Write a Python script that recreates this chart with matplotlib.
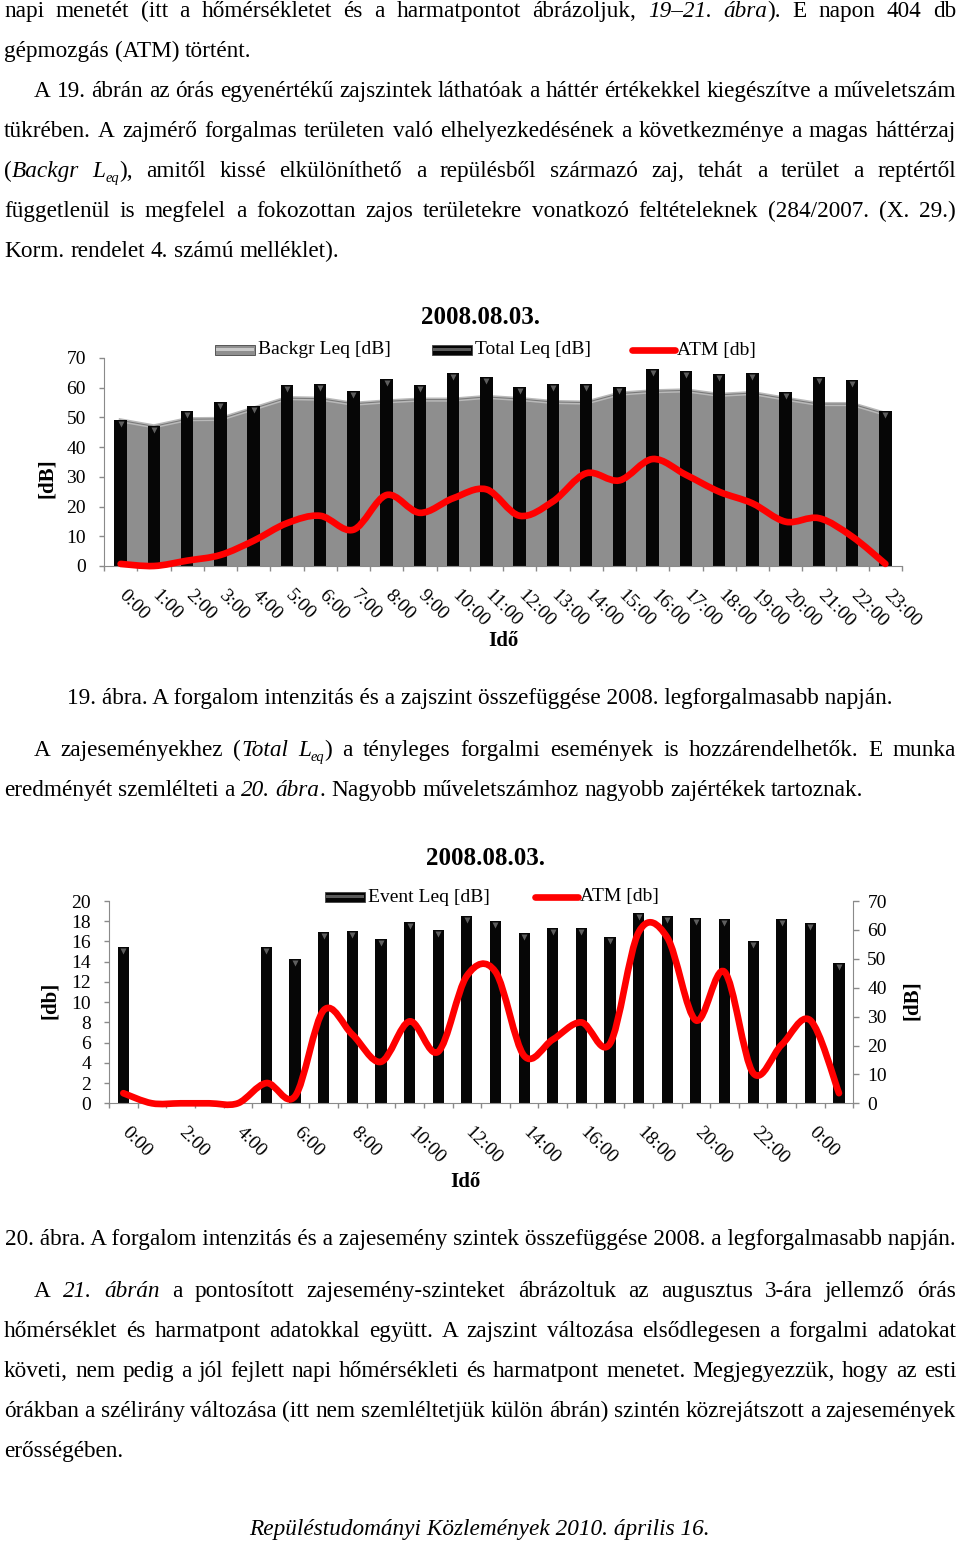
import numpy as np
import matplotlib
matplotlib.use('Agg')
import matplotlib.pyplot as plt
from matplotlib.path import Path
from matplotlib.patches import PathPatch, Rectangle
from matplotlib.lines import Line2D
from matplotlib.font_manager import FontProperties
import matplotlib.transforms as mtrans

plt.rcParams['font.family'] = ['Liberation Serif', 'DejaVu Serif']

# ---------------- data ----------------
hours1 = ["0:00", "1:00", "2:00", "3:00", "4:00", "5:00", "6:00", "7:00", "8:00", "9:00",
          "10:00", "11:00", "12:00", "13:00", "14:00", "15:00", "16:00", "17:00", "18:00",
          "19:00", "20:00", "21:00", "22:00", "23:00"]
backgr = [49.0, 47.0, 49.4, 49.5, 53.0, 56.5, 56.3, 54.6, 55.4, 56.0, 56.0, 56.9,
          56.2, 55.2, 55.0, 58.0, 58.8, 59.1, 57.6, 58.2, 56.3, 54.5, 54.5, 51.2]
total = [49.2, 47.0, 52.0, 55.1, 53.9, 60.8, 61.2, 58.9, 62.9, 60.8, 64.9, 63.6,
         60.2, 61.2, 61.2, 60.4, 66.3, 65.7, 64.6, 64.9, 58.5, 63.6, 62.6, 52.3]
atm1 = [0.7, 0.0, 1.8, 3.7, 8.5, 14.4, 16.9, 12.2, 23.9, 17.9, 22.8, 25.8,
        16.9, 21.7, 31.2, 28.8, 36.0, 30.7, 25.0, 21.1, 14.9, 16.1, 9.9, 0.7]

hours2 = ["0:00", "1:00", "2:00", "3:00", "4:00", "5:00", "6:00", "7:00", "8:00", "9:00",
          "10:00", "11:00", "12:00", "13:00", "14:00", "15:00", "16:00", "17:00", "18:00",
          "19:00", "20:00", "21:00", "22:00", "23:00", "0:00", "1:00"]
event = [54.2, 0, 0, 0, 0, 54.2, 49.8, 59.2, 59.6, 56.7, 62.8, 60.0, 64.8,
         63.1, 58.8, 60.6, 60.6, 57.6, 66.0, 64.8, 64.0, 63.7, 56.2, 63.8, 62.5, 48.7]
atm2 = [1.0, 0.0, 0.0, 0.0, 0.0, 2.0, 0.7, 9.2, 6.8, 4.1, 8.1, 5.1, 12.6,
        13.0, 4.7, 6.3, 8.0, 5.9, 16.9, 16.4, 8.2, 13.0, 3.0, 5.8, 8.2, 1.0]

title_txt = "2008.08.03."

# text of the page: each line is a list of runs (text, style)  n=normal i=italic s=subscript
para1 = [
    ([("napi menetét (itt a hőmérsékletet és a harmatpontot ábrázoljuk, ", "n"), ("19–21. ábra", "i"), ("). E napon 404 db", "n")], 4, True),
    ([("gépmozgás (ATM) történt.", "n")], 4, False),
    ([("A 19. ábrán az órás egyenértékű zajszintek láthatóak a háttér értékekkel kiegészítve a műveletszám", "n")], 34, True),
    ([("tükrében. A zajmérő forgalmas területen való elhelyezkedésének a következménye a magas háttérzaj", "n")], 4, True),
    ([("(", "n"), ("Backgr L", "i"), ("eq", "s"), ("), amitől kissé elkülöníthető a repülésből származó zaj, tehát a terület a reptértől", "n")], 4, True),
    ([("függetlenül is megfelel a fokozottan zajos területekre vonatkozó feltételeknek (284/2007. (X. 29.)", "n")], 4, True),
    ([("Korm. rendelet 4. számú melléklet).", "n")], 4, False),
]
para1_y = [10, 50, 90, 130, 170, 210, 250]
caption1 = "19. ábra. A forgalom intenzitás és a zajszint összefüggése 2008. legforgalmasabb napján."
para2 = [
    ([("A zajeseményekhez (", "n"), ("Total L", "i"), ("eq", "s"), (") a tényleges forgalmi események is hozzárendelhetők. E munka", "n")], 34, True),
    ([("eredményét szemlélteti a ", "n"), ("20. ábra", "i"), (". Nagyobb műveletszámhoz nagyobb zajértékek tartoznak.", "n")], 4, False),
]
para2_y = [749, 789]
caption2 = "20. ábra. A forgalom intenzitás és a zajesemény szintek összefüggése 2008. a legforgalmasabb napján."
para3 = [
    ([("A ", "n"), ("21. ábrán", "i"), (" a pontosított zajesemény-szinteket ábrázoltuk az augusztus 3-ára jellemző órás", "n")], 34, True),
    ([("hőmérséklet és harmatpont adatokkal együtt. A zajszint változása elsődlegesen a forgalmi adatokat", "n")], 4, True),
    ([("követi, nem pedig a jól fejlett napi hőmérsékleti és harmatpont menetet. Megjegyezzük, hogy az esti", "n")], 4, True),
    ([("órákban a szélirány változása (itt nem szemléltetjük külön ábrán) szintén közrejátszott a zajesemények", "n")], 4, True),
    ([("erősségében.", "n")], 4, False),
]
para3_y = [1290, 1330, 1370, 1410, 1450]
footer = "Repüléstudományi Közlemények 2010. április 16."

# ---------------- figure ----------------
W, H = 960, 1541
fig = plt.figure(figsize=(9.6, 15.41), dpi=100)
fig.patch.set_facecolor('white')
renderer = fig.canvas.get_renderer()
SERIF = 'Liberation Serif'


def fx(x):
    return x / W


def fy(y):
    return 1 - y / H


def fprop(style, size):
    if style == 'n':
        return FontProperties(family=SERIF, size=size)
    if style == 'i':
        return FontProperties(family=SERIF, style='italic', size=size)
    return FontProperties(family=SERIF, style='italic', size=size * 0.62)


def text_w(s, style, size):
    w, h, d = renderer.get_text_width_height_descent(s, fprop(style, size), ismath=False)
    return w


def to_words(runs):
    words = [[]]
    for t, st in runs:
        parts = t.split(' ')
        for k, p in enumerate(parts):
            if k > 0:
                words.append([])
            if p:
                words[-1].append((p, st))
    return [w for w in words if w]


BODY = 16.0
# fit body size to the widest centred caption
BODY = 10.0 * 950.0 / text_w(caption2, 'n', 10.0)


def draw_line(runs, x0, y_center, justify, x1=956, size=None):
    size = size or BODY
    words = to_words(runs)
    widths = [[text_w(p, st, size) for p, st in w] for w in words]
    tot = sum(sum(w) for w in widths)
    if justify and len(words) > 1:
        gap = (x1 - x0 - tot) / (len(words) - 1)
    else:
        gap = text_w('a a', 'n', size) - 2 * text_w('a', 'n', size)
    base = y_center + 0.31 * size * 100 / 72
    x = x0
    for w, ws in zip(words, widths):
        for (p, st), pw in zip(w, ws):
            yb = base + (0.22 * size * 100 / 72 if st == 's' else 0)
            fig.text(fx(x), fy(yb), p, fontproperties=fprop(st, size), va='baseline', ha='left')
            x += pw
        x += gap


for (runs, x0, j), y in zip(para1, para1_y):
    draw_line(runs, x0, y, j)
for (runs, x0, j), y in zip(para2, para2_y):
    draw_line(runs, x0, y, j)
for (runs, x0, j), y in zip(para3, para3_y):
    draw_line(runs, x0, y, j)

fig.text(fx(480), fy(697 + 0.31 * BODY * 100 / 72), caption1, fontproperties=fprop('n', BODY), ha='center', va='baseline')
fig.text(fx(480), fy(1238 + 0.31 * BODY * 100 / 72), caption2, fontproperties=fprop('n', BODY), ha='center', va='baseline')
fig.text(fx(479), fy(1528 + 0.31 * BODY * 100 / 72), footer, fontproperties=fprop('i', BODY), ha='center', va='baseline')

GRAY = '#8a8a8a'
RED = '#ff0000'
TICK_FS = 14
PX = 72 / 100.0  # points per pixel


def smooth_path(xs, ys):
    pts = np.column_stack([np.asarray(xs, float), np.asarray(ys, float)])
    n = len(pts)
    verts = [pts[0]]
    codes = [Path.MOVETO]
    for i in range(n - 1):
        p0 = pts[i - 1] if i > 0 else pts[i]
        p1 = pts[i]
        p2 = pts[i + 1]
        p3 = pts[i + 2] if i + 2 < n else pts[i + 1]
        verts += [p1 + (p2 - p0) / 6.0, p2 - (p3 - p1) / 6.0, p2]
        codes += [Path.CURVE4] * 3
    return Path(verts, codes)


def setup_xaxis(ax, n, label_idx, labels):
    ax.set_xlim(-0.5, n - 0.5)
    ax.set_xticks(np.arange(-0.5, n, 1.0))
    ax.set_xticklabels([])
    ax.tick_params(axis='x', which='major', length=5 * PX, width=1, color=GRAY, direction='out')
    ax.set_xticks(label_idx, labels, minor=True)
    ax.tick_params(axis='x', which='minor', length=0, pad=21 * PX, labelsize=TICK_FS)
    off = mtrans.ScaledTranslation(7 / 100.0, 0, fig.dpi_scale_trans)
    for lbl in ax.get_xticklabels(minor=True):
        lbl.set_rotation(-45)
        lbl.set_ha('left')
        lbl.set_va('top')
        lbl.set_rotation_mode('anchor')
        lbl.set_transform(lbl.get_transform() + off)


def legend_patch(x, y, color, stripe):
    fig.add_artist(Rectangle((fx(x), fy(y + 5)), 40 / W, 10 / H, transform=fig.transFigure,
                             facecolor=color, edgecolor='#444444', lw=0.6))
    fig.add_artist(Rectangle((fx(x + 1), fy(y + 1)), 38 / W, 3 / H, transform=fig.transFigure,
                             facecolor=stripe, edgecolor='none'))


def legend_line(x, y):
    fig.add_artist(Line2D([fx(x), fx(x + 43)], [fy(y), fy(y)], transform=fig.transFigure,
                          color=RED, lw=4.8, solid_capstyle='round'))


def legend_text(x, y, s):
    fig.text(fx(x), fy(y), s, fontsize=14, va='center', ha='left', family=SERIF)


def bevel(ax, xs, ys, size):
    off = mtrans.ScaledTranslation(0, -4 / 100.0, fig.dpi_scale_trans)
    ax.plot(xs, ys, linestyle='none', marker='v', ms=size, color='#5e5e5e', mec='none',
            transform=ax.transData + off, zorder=2.5)


# ---------------- chart 1 ----------------
ax1 = fig.add_axes([fx(104), fy(566), (902 - 104) / W, (566 - 358) / H])
x1 = np.arange(len(hours1))
ax1.fill_between(x1, 0, backgr, color='#8e8e8e', lw=0, zorder=1)
ax1.plot(x1, backgr, color='#b9b9b9', lw=3, zorder=1.5)
ax1.plot(x1, backgr, color='#7a7a7a', lw=0.8, zorder=1.6)
ax1.bar(x1, total, width=0.38, color='#060606', zorder=2)
bevel(ax1, x1, total, 4.5)
ax1.add_patch(PathPatch(smooth_path(x1, atm1), fill=False, edgecolor=RED, lw=4.8, zorder=3,
                        capstyle='round', joinstyle='round', clip_on=False))
ax1.set_ylim(0, 70)
ax1.set_yticks(np.arange(0, 71, 10))
ax1.tick_params(axis='y', length=5 * PX, width=1, color=GRAY, pad=13 * PX, labelsize=TICK_FS)
for s in ['top', 'right']:
    ax1.spines[s].set_visible(False)
for s in ['left', 'bottom']:
    ax1.spines[s].set_color(GRAY)
setup_xaxis(ax1, len(hours1), x1, hours1)

fig.text(fx(480), fy(318), title_txt, fontsize=18, fontweight='bold', ha='center', va='center', family=SERIF)
fig.text(fx(47), fy(478), "[dB]", fontsize=15, fontweight='bold', rotation=90, ha='center', va='center', family=SERIF)
fig.text(fx(503), fy(641), "Idő", fontsize=15, fontweight='bold', ha='center', va='center', family=SERIF)
legend_patch(215, 350, '#8f8f8f', '#c9c9c9')
legend_text(258, 350, "Backgr Leq [dB]")
legend_patch(432, 350, '#050505', '#5a5a5a')
legend_text(475, 350, "Total Leq [dB]")
legend_line(632, 350)
legend_text(677, 350, "ATM [db]")

# ---------------- chart 2 ----------------
ax2 = fig.add_axes([fx(109), fy(1103.3), (853.3 - 109) / W, (1103.3 - 901) / H])
x2 = np.arange(len(hours2))
ax2.bar(x2, event, width=0.39, color='#060606', zorder=2)
bevel(ax2, x2[np.asarray(event) > 0], np.asarray(event)[np.asarray(event) > 0], 4.0)
ax2.set_ylim(0, 70)
ax2.set_yticks(np.arange(0, 71, 10))
setup_xaxis(ax2, len(hours2), x2[::2], hours2[::2])
ax2l = ax2.twinx()
ax2.yaxis.tick_right()
ax2l.yaxis.tick_left()
ax2.tick_params(axis='y', length=6 * PX, width=1, color=GRAY, pad=8 * PX, labelsize=TICK_FS)
ax2l.set_ylim(0, 20)
ax2l.set_yticks(np.arange(0, 21, 2))
ax2l.tick_params(axis='y', length=5 * PX, width=1, color=GRAY, pad=13 * PX, labelsize=TICK_FS)
ax2l.add_patch(PathPatch(smooth_path(x2, atm2), fill=False, edgecolor=RED, lw=4.8, zorder=3,
                         capstyle='round', joinstyle='round', clip_on=False))
for s in ax2l.spines.values():
    s.set_visible(False)
ax2.spines['top'].set_visible(False)
for s in ['left', 'bottom', 'right']:
    ax2.spines[s].set_color(GRAY)

fig.text(fx(485), fy(858), title_txt, fontsize=18, fontweight='bold', ha='center', va='center', family=SERIF)
fig.text(fx(50), fy(1000), "[db]", fontsize=15, fontweight='bold', rotation=90, ha='center', va='center', family=SERIF)
fig.text(fx(912), fy(1000), "[dB]", fontsize=15, fontweight='bold', rotation=90, ha='center', va='center', family=SERIF)
fig.text(fx(465), fy(1182), "Idő", fontsize=15, fontweight='bold', ha='center', va='center', family=SERIF)
legend_patch(325, 897, '#050505', '#5a5a5a')
legend_text(368, 897, "Event Leq [dB]")
legend_line(535, 897)
legend_text(580, 897, "ATM [db]")

fig.savefig('out.png', dpi=100, facecolor='white')
